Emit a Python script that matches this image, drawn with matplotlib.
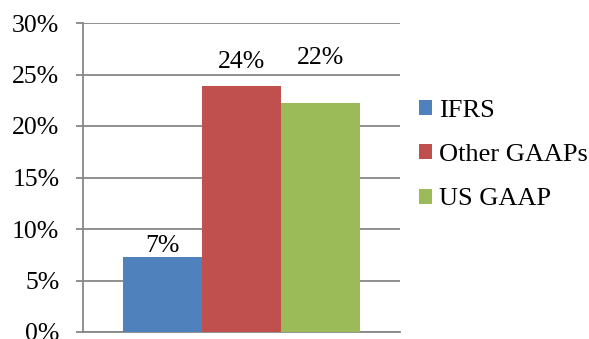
import matplotlib
matplotlib.use("Agg")
import matplotlib.pyplot as plt
from matplotlib.patches import Patch

plt.rcParams['font.family'] = ['Liberation Serif', 'DejaVu Serif']

# share of companies by accounting standard
standards = ['IFRS', 'Other GAAPs', 'US GAAP']
shares = [7.3, 23.9, 22.2]
colors = ['#4F81BD', '#C0504D', '#9BBB59']
yticks = [0, 5, 10, 15, 20, 25, 30]

# vertical offset of each value label centre above its bar (points)
label_offsets = [7.5, 17.5, 33]

grid_color = '#878787'

fig = plt.figure(figsize=(5.89, 3.39), dpi=100)
ax = fig.add_axes([83 / 589, 7 / 339, 317 / 589, 309 / 339])

width = 0.25
xs = [(i - 1) * width for i in range(len(standards))]
ax.bar(xs, shares, width=width, color=colors, zorder=3)

for x, v, off in zip(xs, shares, label_offsets):
    ax.annotate(f'{v:.0f}%', (x, v), xytext=(0, off), textcoords='offset points',
                ha='center', va='center', fontsize=18.5, zorder=4)

ax.set_xlim(-0.5, 0.5)
ax.set_ylim(0, 30)
ax.set_yticks(yticks)
ax.set_yticklabels([f'{t}%' for t in yticks], fontsize=18.5)
ax.set_xticks([])
ax.yaxis.grid(True, color=grid_color, linewidth=1.3, zorder=0)
ax.tick_params(axis='y', length=5, width=1.3, color=grid_color, pad=12)

for side in ['top', 'right']:
    ax.spines[side].set_visible(False)
for side in ['left', 'bottom']:
    ax.spines[side].set_color(grid_color)
    ax.spines[side].set_linewidth(1.3)

handles = [Patch(facecolor=c, edgecolor='none') for c in colors]
fig.legend(handles, standards, loc='center left', bbox_to_anchor=(419 / 589, 1 - 155 / 339),
           frameon=False, fontsize=19, handlelength=0.5, handleheight=0.5,
           handletextpad=0.25, labelspacing=0.85, borderpad=0, borderaxespad=0)

fig.savefig('out.png', dpi=100)
